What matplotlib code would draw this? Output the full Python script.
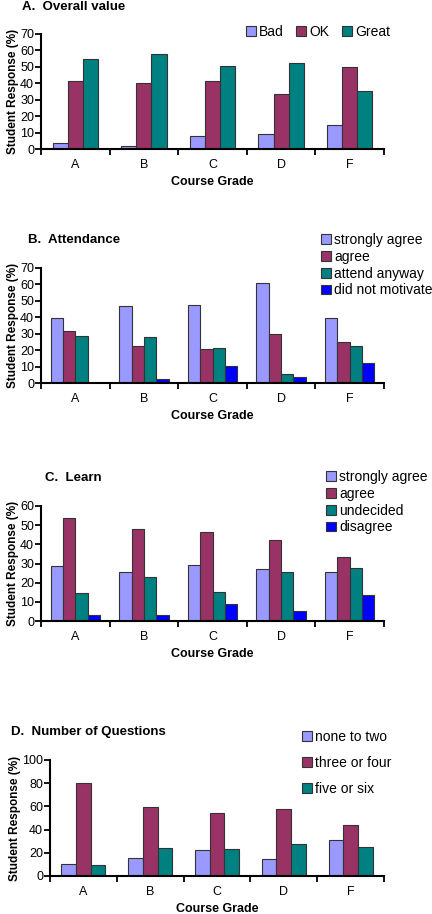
import matplotlib
matplotlib.use("Agg")
import matplotlib.pyplot as plt
import numpy as np

plt.rcParams['font.family'] = ['Liberation Sans', 'DejaVu Sans']

grades = ['A', 'B', 'C', 'D', 'F']

# A. Overall value
overall_labels = ['Bad', 'OK', 'Great']
overall_bad = [3.7, 2.0, 7.9, 9.1, 14.6]
overall_ok = [41.6, 40.4, 41.4, 33.3, 49.9]
overall_great = [54.6, 57.8, 50.5, 52.2, 35.5]

# B. Attendance
attend_labels = ['strongly agree', 'agree', 'attend anyway', 'did not motivate']
attend_strong = [39.5, 46.6, 47.2, 61.0, 39.5]
attend_agree = [31.5, 22.6, 20.6, 29.7, 24.8]
attend_anyway = [28.9, 27.9, 21.6, 5.5, 22.8]
attend_notmot = [0.0, 2.6, 10.4, 3.7, 12.2]

# C. Learn
learn_labels = ['strongly agree', 'agree', 'undecided', 'disagree']
learn_strong = [28.5, 25.6, 29.4, 26.9, 25.4]
learn_agree = [53.9, 48.2, 46.3, 42.4, 33.2]
learn_undecided = [14.6, 22.8, 15.3, 25.4, 27.5]
learn_disagree = [3.0, 3.3, 8.7, 5.0, 13.7]

# D. Number of Questions
quest_labels = ['none to two', 'three or four', 'five or six']
quest_none = [10.6, 15.5, 22.7, 14.9, 31.3]
quest_three = [80.5, 59.8, 54.0, 58.0, 43.7]
quest_five = [9.2, 24.4, 23.6, 27.6, 25.0]

colors = ['#9999FF', '#993366', '#008080', '#0000FF']

W, H = 432, 914
fig = plt.figure(figsize=(W / 100, H / 100), dpi=100)


def px_axes(left, right, top, bottom):
    return fig.add_axes([left / W, 1 - bottom / H, (right - left) / W, (bottom - top) / H])


def panel(ax, series, labels, width, ymax, ystep):
    x = np.arange(len(grades))
    n = len(series)
    for i, (vals, lab) in enumerate(zip(series, labels)):
        off = (i - (n - 1) / 2) * width
        ax.bar(x + off, vals, width, color=colors[i], edgecolor='#333333',
               linewidth=0.8, label=lab)
    ax.set_xlim(-0.5, len(grades) - 0.5)
    ax.set_ylim(0, ymax)
    ax.set_yticks(np.arange(0, ymax + 1, ystep))
    ax.set_xticks(x)
    ax.set_xticklabels(grades, fontsize=9)
    ax.set_xticks(np.arange(-0.5, len(grades)), minor=True)
    ax.tick_params(axis='x', which='major', length=0, pad=7)
    ax.tick_params(axis='x', which='minor', length=4, width=1.3, direction='out')
    ax.tick_params(axis='y', length=4, width=1.3, direction='out', labelsize=9, pad=1)
    for s in ['top', 'right']:
        ax.spines[s].set_visible(False)
    for s in ['left', 'bottom']:
        ax.spines[s].set_linewidth(1.5)
    ax.set_xlabel('Course Grade', fontsize=9, fontweight='bold', labelpad=4)
    ax.set_ylabel('Student Response (%)', fontsize=8.5, fontweight='bold', labelpad=1)


def legend(ax, x, y, ncol, spacing):
    ax.legend(loc='upper left', bbox_to_anchor=(x / W, 1 - y / H),
              bbox_transform=fig.transFigure, ncol=ncol, frameon=False,
              fontsize=10, handlelength=0.7, handleheight=0.7,
              handletextpad=0.25, columnspacing=0.9, labelspacing=spacing,
              borderpad=0, borderaxespad=0)


# Panel A
axA = px_axes(41, 384, 34, 149)
panel(axA, [overall_bad, overall_ok, overall_great], overall_labels, 0.22, 70, 10)
legend(axA, 246, 25, 3, 0.2)
fig.text(22 / W, 1 - 7 / H, 'A.  Overall value', fontsize=9.5, fontweight='bold', va='center')

# Panel B
axB = px_axes(41, 384, 268, 383)
panel(axB, [attend_strong, attend_agree, attend_anyway, attend_notmot], attend_labels, 0.18, 70, 10)
legend(axB, 321, 233, 1, 0.2)
fig.text(28 / W, 1 - 240 / H, 'B.  Attendance', fontsize=9.5, fontweight='bold', va='center')

# Panel C
axC = px_axes(41, 384, 506, 621)
panel(axC, [learn_strong, learn_agree, learn_undecided, learn_disagree], learn_labels, 0.18, 60, 10)
legend(axC, 326, 470, 1, 0.2)
fig.text(45 / W, 1 - 478 / H, 'C.  Learn', fontsize=9.5, fontweight='bold', va='center')

# Panel D
axD = px_axes(50, 384, 760, 876)
panel(axD, [quest_none, quest_three, quest_five], quest_labels, 0.22, 100, 20)
legend(axD, 302, 730, 1, 0.87)
fig.text(11 / W, 1 - 732 / H, 'D.  Number of Questions', fontsize=9.5, fontweight='bold', va='center')

fig.savefig('out.png', dpi=100)
